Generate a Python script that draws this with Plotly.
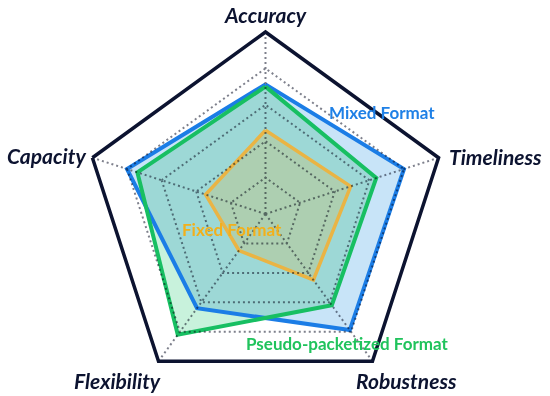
import plotly.graph_objects as go

categories = ["Accuracy", "Timeliness", "Robustness", "Flexibility", "Capacity"]
mixed = [3.56, 4.0, 3.94, 3.2, 4.0]
pseudo = [3.5, 3.2, 3.1, 4.1, 3.7]
fixed = [2.3, 2.46, 2.24, 1.24, 1.73]

series = [
    ("Mixed Format", mixed, "#1b7de6", "#c8e4f8"),
    ("Pseudo-packetized Format", pseudo, "#17bf62", "#c8f2dc"),
    ("Fixed Format", fixed, "#eab444", "rgba(240,176,32,0.2)"),
]

fig = go.Figure()
# fills first
for name, vals, lc, fc in series:
    fig.add_trace(go.Scatterpolar(
        r=vals + vals[:1], theta=categories + categories[:1],
        mode="lines", fill="toself", fillcolor=fc,
        line=dict(width=0, color=fc), name=name, hoverinfo="skip"))
# outlines on top
for name, vals, lc, fc in series:
    fig.add_trace(go.Scatterpolar(
        r=vals + vals[:1], theta=categories + categories[:1],
        mode="lines", line=dict(width=4 if name != "Fixed Format" else 3.5, color=lc),
        name=name))

navy = "#0c1330"
grid = "#7e808c"
fig.update_layout(
    width=550, height=396,
    margin=dict(l=0, r=0, t=0, b=0),
    paper_bgcolor="white",
    showlegend=False,
    polar=dict(
        domain=dict(x=[0.1518, 0.8136], y=[0.0, 0.9192]),
        bgcolor="white",
        gridshape="linear",
        radialaxis=dict(range=[0, 5], tickvals=[1, 2, 3, 4], showticklabels=False,
                        ticks="", showline=False, gridcolor=grid, gridwidth=2,
                        griddash="2px,3px"),
        angularaxis=dict(type="category", categoryarray=categories, rotation=90,
                         direction="clockwise", showticklabels=False, ticks="",
                         showline=True, linecolor=navy, linewidth=3.5,
                         gridcolor=grid, gridwidth=2, griddash="2px,3px"),
    ),
)

axis_font = dict(family="Lato, 'Open Sans', sans-serif", size=21, color=navy)
label_pos = {
    "Accuracy": (265, 15),
    "Timeliness": (495, 156),
    "Robustness": (406, 380),
    "Flexibility": (117, 380),
    "Capacity": (46, 155),
}
for c in categories:
    x, y = label_pos[c]
    fig.add_annotation(x=x / 550, y=1 - y / 396, xref="paper", yref="paper",
                       text="<b><i>" + c + "</i></b>", showarrow=False,
                       xanchor="center", yanchor="middle", font=axis_font)

series_labels = [
    ("Mixed Format", (382, 112), "#1f80e6"),
    ("Pseudo-packetized Format", (347, 343), "#20c35c"),
    ("Fixed Format", (232, 229), "#f2b01c"),
]
for t, (x, y), col in series_labels:
    fig.add_annotation(x=x / 550, y=1 - y / 396, xref="paper", yref="paper",
                       text="<b>" + t + "</b>", showarrow=False,
                       xanchor="center", yanchor="middle",
                       font=dict(family="Lato, 'Open Sans', sans-serif", size=17, color=col))

post = """
document.body.style.margin = '0';
document.body.style.overflow = 'hidden';
var gd = document.getElementById('{plot_id}');
function blendIt(){
  var tr = gd.querySelectorAll('g.trace');
  if (tr.length >= 2) {
    tr[0].style.mixBlendMode = 'multiply';
    tr[1].style.mixBlendMode = 'multiply';
    var el = tr[0].parentNode;
    while (el && el.tagName && el.tagName.toLowerCase() !== 'svg') {
      el.style.mixBlendMode = 'multiply';
      el = el.parentNode;
    }
  }
}
blendIt();
gd.on('plotly_afterplot', blendIt);
"""
fig.write_html("out.html", post_script=post, config={"displayModeBar": False})
